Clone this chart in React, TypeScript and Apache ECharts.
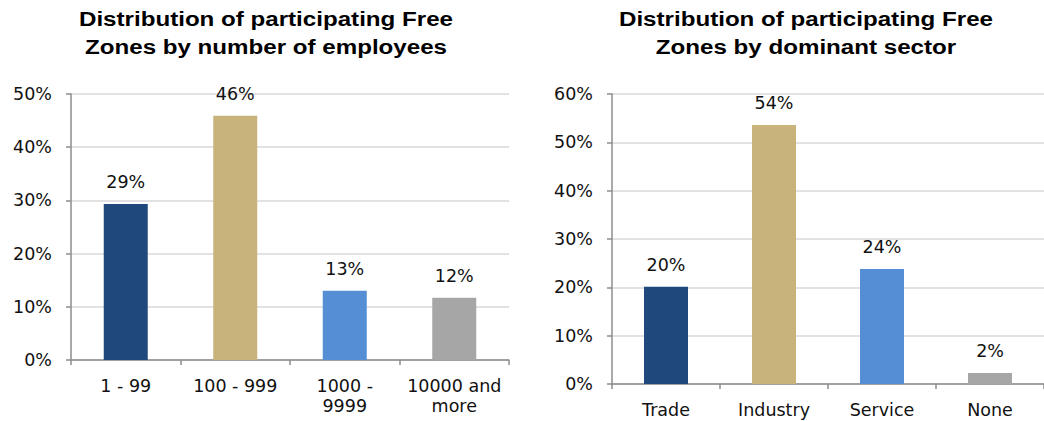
import React, { useEffect, useRef } from "react";
import * as echarts from "echarts";

const empCategories = ["1 - 99", "100 - 999", "1000 -\n9999", "10000 and\nmore"];
const empValues = [29.3, 45.9, 13.0, 11.7];
const sectorCategories = ["Trade", "Industry", "Service", "None"];
const sectorValues = [20.1, 53.6, 23.8, 2.3];
const barColors = ["#1F497D", "#C8B47A", "#558ED5", "#A6A6A6"];
const title1 = "Distribution of participating Free\nZones by number of employees";
const title2 = "Distribution of participating Free\nZones by dominant sector";

const LABEL_FONT = "'DejaVu Sans', sans-serif";
const TITLE_FONT = "'Liberation Sans', Arial, sans-serif";

export default function App() {
  const ref = useRef<HTMLDivElement>(null);
  useEffect(() => {
    if (!ref.current) return;
    const chart = echarts.init(ref.current, undefined, { renderer: "svg" });
    const axisLine = { show: true, lineStyle: { color: "#8C8C8C", width: 1.5 } };
    const axisTick = { show: true, length: 5, lineStyle: { color: "#8C8C8C", width: 1.5 } };
    const yAxis = (max: number, idx: number) => ({
      type: "value",
      gridIndex: idx,
      min: 0,
      max,
      interval: 10,
      axisLine,
      axisTick,
      splitLine: { show: true, lineStyle: { color: "#D9D9D9", width: 1.5 } },
      axisLabel: {
        formatter: (v: number) => `${v}%`,
        color: "#111",
        fontSize: 17.5,
        fontFamily: LABEL_FONT,
        margin: 19,
      },
    });
    const xAxis = (cats: string[], idx: number) => ({
      type: "category",
      gridIndex: idx,
      data: cats,
      axisLine,
      axisTick: { ...axisTick, alignWithLabel: false },
      axisLabel: {
        color: "#111",
        fontSize: 17.5,
        fontFamily: LABEL_FONT,
        margin: 16,
        lineHeight: 20,
        interval: 0,
      },
    });
    const series = (vals: number[], idx: number) => ({
      type: "bar",
      xAxisIndex: idx,
      yAxisIndex: idx,
      barWidth: 44,
      data: vals.map((v, i) => ({ value: v, itemStyle: { color: barColors[i] } })),
      label: {
        show: true,
        position: "top",
        distance: 13,
        formatter: (p: any) => `${Math.round(p.value)}%`,
        color: "#111",
        fontSize: 17.5,
        fontFamily: LABEL_FONT,
      },
    });
    const titleText = (text: string, x: number) => ({
      type: "text",
      x,
      y: 5,
      scaleX: 1.15,
      style: {
        text,
        x: 0,
        y: 0,
        textAlign: "center",
        textVerticalAlign: "top",
        font: `bold 21px ${TITLE_FONT}`,
        lineHeight: 28,
        fill: "#000",
      },
    });
    chart.setOption({
      animation: false,
      backgroundColor: "#fff",
      grid: [
        { left: 71, top: 94, width: 438, height: 266 },
        { left: 612, top: 94, width: 436, height: 290 },
      ],
      xAxis: [xAxis(empCategories, 0), xAxis(sectorCategories, 1)],
      yAxis: [yAxis(50, 0), yAxis(60, 1)],
      series: [series(empValues, 0), series(sectorValues, 1)],
      graphic: [titleText(title1, 266), titleText(title2, 806)],
    });
    return () => chart.dispose();
  }, []);
  return (
    <div
      ref={ref}
      style={{ position: "fixed", left: 0, top: 0, width: 1044, height: 421 }}
    />
  );
}
